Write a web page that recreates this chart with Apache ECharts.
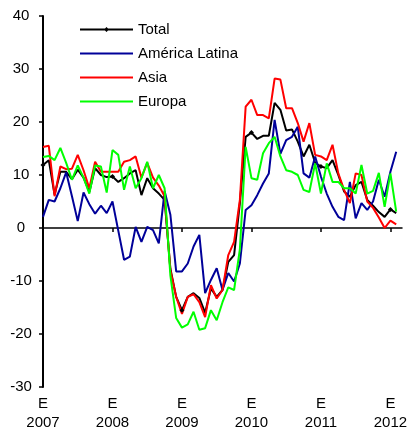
<!DOCTYPE html>
<html>
<head>
<meta charset="utf-8">
<script src="https://cdn.jsdelivr.net/npm/echarts@6/dist/echarts.min.js"></script>
<style>
  html, body { margin: 0; padding: 0; background: #fff; }
</style>
</head>
<body>
<div id="main" style="width: 411px;height: 432px"></div>
<script>
  // monthly values, Jan 2007 .. Feb 2012
  const years = ['2007', '2008', '2009', '2010', '2011', '2012']
  const monthLetter = 'E'
  const total = [
    11.9, 12.8, 6.3, 10.6, 10.6, 9.2, 11.0, 9.5, 6.8, 11.3, 10.0, 9.6,
    9.7, 8.7, 9.4, 10.3, 10.9, 6.2, 9.4, 7.5, 6.5, 5.3, -7.7, -13.0,
    -15.5, -13.0, -12.3, -13.2, -16.0, -11.4, -13.0, -11.7, -6.4, -5.1, 4.7, 17.2,
    18.0, 16.8, 17.4, 17.4, 23.6, 22.3, 18.4, 18.6, 16.3, 13.5, 15.7, 12.3,
    11.6, 11.3, 12.8, 10.0, 6.9, 5.9, 8.1, 8.7, 5.3, 4.2, 3.0, 2.1,
    3.5, 2.8
  ]
  const latam = [
    2.1, 5.3, 5.0, 7.5, 10.5, 6.0, 1.3, 6.7, 4.5, 2.7, 4.2, 2.8,
    5.0, -0.5, -6.0, -5.4, 0.2, -2.6, 0.2, -0.4, -2.9, 7.0, 2.5, -8.2,
    -8.2, -6.7, -3.5, -1.3, -12.3, -9.8, -7.6, -11.7, -8.5, -10.1, -6.7, 3.4,
    4.3, 6.2, 8.4, 10.3, 20.4, 14.0, 16.6, 17.2, 19.1, 10.3, 9.5, 13.5,
    9.7, 6.5, 4.0, 2.1, 1.5, 8.7, 1.8, 4.7, 3.4, 5.0, 9.1, 5.9,
    10.6, 14.4
  ]
  const asia = [
    15.3, 15.5, 6.0, 11.6, 11.1, 11.2, 13.8, 10.9, 7.5, 12.5, 10.6, 10.6,
    10.6, 10.6, 12.5, 12.8, 13.5, 9.5, 12.3, 9.5, 8.0, 6.0, -8.0, -13.0,
    -16.2, -13.0, -12.5, -14.0, -16.8, -10.8, -13.3, -11.7, -5.1, -2.6, 5.3, 22.9,
    24.2, 21.3, 21.3, 20.7, 28.2, 28.0, 22.6, 22.6, 19.8, 16.3, 19.8, 13.8,
    13.5, 12.8, 15.7, 10.3, 7.2, 4.7, 10.3, 10.0, 5.0, 3.8, 2.0, 0.0,
    1.4, 0.7
  ]
  const europa = [
    13.4, 13.6, 12.8, 15.1, 12.3, 9.1, 11.8, 9.5, 6.5, 11.8, 11.6, 6.7,
    14.7, 13.8, 7.2, 11.6, 7.5, 9.4, 12.5, 7.5, 10.0, 7.5, -9.0, -17.0,
    -18.8, -18.2, -15.8, -19.2, -18.9, -15.5, -17.4, -14.0, -11.2, -11.7, -4.0, 15.3,
    9.4, 9.1, 14.1, 16.0, 17.2, 13.5, 10.9, 10.6, 10.0, 7.2, 6.8, 12.2,
    6.5, 12.2, 8.7, 8.7, 7.5, 7.5, 6.5, 11.9, 6.5, 7.0, 10.4, 4.0,
    10.3, 3.1
  ]

  // one extra empty month at the end of the axis
  const months = []
  for (let i = 0; i < 63; i++) {
    months.push(years[Math.floor(i / 12)] + '-' + (i % 12 + 1))
  }

  const font = 'Liberation Sans, Arial, sans-serif'
  const isJan = (i) => i % 12 === 0
  const lineIcon = 'path://M0,0 L53,0 L53,2 L0,2 Z'
  const markIcon = 'path://M0,6 L53,6 L53,8 L0,8 Z M26.5,4.5 L29,7 L26.5,9.5 L24,7 Z'

  const mk = (name, data, color, extra) => Object.assign({
    name: name,
    type: 'line',
    data: data,
    xAxisIndex: 0,
    symbol: 'none',
    lineStyle: { color: color, width: 2 },
    itemStyle: { color: color },
    animation: false
  }, extra || {})

  echarts.init(document.getElementById('main')).setOption({
    animation: false,
    grid: { left: 43, right: 9, top: 16, bottom: 44 },
    legend: {
      orient: 'vertical',
      left: 80,
      top: 22,
      padding: 0,
      itemWidth: 53,
      itemHeight: 14,
      itemGap: 9,
      textStyle: { fontSize: 15, color: '#000', fontFamily: font },
      data: [
        { name: 'Total', icon: markIcon },
        { name: 'América Latina', icon: lineIcon },
        { name: 'Asia', icon: lineIcon },
        { name: 'Europa', icon: lineIcon }
      ]
    },
    xAxis: [
      {
        type: 'category',
        data: months,
        boundaryGap: false,
        position: 'bottom',
        axisLine: { show: false, onZero: false },
        axisTick: { show: false },
        splitLine: { show: false },
        axisLabel: {
          interval: (i) => isJan(i),
          formatter: (v, i) => isJan(i) ? monthLetter + '\n' + years[i / 12] : '',
          fontSize: 15,
          lineHeight: 19,
          margin: 7,
          color: '#000',
          fontFamily: font
        }
      },
      {
        type: 'category',
        data: months,
        boundaryGap: false,
        position: 'top',
        axisLine: { show: true, onZero: true, lineStyle: { color: '#000', width: 1.5 } },
        axisTick: { show: true, inside: true, length: 4, interval: (i) => isJan(i), lineStyle: { color: '#000', width: 1.5 } },
        axisLabel: { show: false },
        splitLine: { show: false }
      }
    ],
    yAxis: {
      type: 'value',
      min: -30,
      max: 40,
      interval: 10,
      axisLine: { show: true, lineStyle: { color: '#000', width: 2 } },
      axisTick: { show: true, length: 4, lineStyle: { color: '#000', width: 1.5 } },
      splitLine: { show: false },
      axisLabel: { fontSize: 15, color: '#000', fontFamily: font, align: 'center', margin: 22 }
    },
    series: [
      mk('Total', total, '#000000', { symbol: 'diamond', symbolSize: 5, showSymbol: true }),
      mk('América Latina', latam, '#000099'),
      mk('Asia', asia, '#ff0000'),
      mk('Europa', europa, '#00ff00')
    ]
  })
</script>
</body>
</html>
